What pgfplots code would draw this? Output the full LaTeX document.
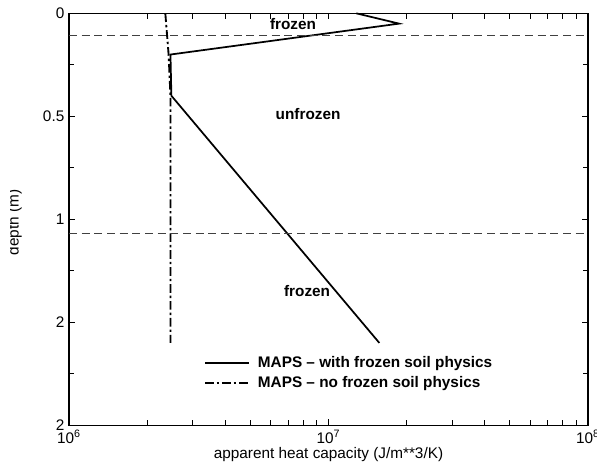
\documentclass[border=0pt]{standalone}
\usepackage{fontspec}
\setmainfont{Liberation Sans}
\usepackage{pgfplots}
\pgfplotsset{compat=1.18}
\begin{document}
\begin{tikzpicture}
\useasboundingbox (-51.75pt,-36.75pt) rectangle (396pt,319pt);
\clip (-51.75pt,-36.75pt) rectangle (396pt,319pt);
\begin{axis}[
  scale only axis,
  width=389.25pt, height=309pt,
  xmode=log, xmin=1e6, xmax=1e8,
  ymin=0, ymax=2, y dir=reverse,
  xtick={1e6,1e7,1e8},
  xticklabels={10\textsuperscript{6},10\textsuperscript{7},10\textsuperscript{8}},
  ytick={0,0.5,1,1.5,2},
  yticklabels={0,0.5,1,2,2},
  minor ytick={0.25,0.75,1.25,1.75},
  tick align=inside,
  major tick length=4.5pt, minor tick length=4pt,
  every tick/.style={black, line width=0.8pt},
  axis line style={line width=1.2pt},
  ticklabel style={font=\fontsize{11.5}{13}\selectfont},
  xlabel={apparent heat capacity (J/m**3/K)},
  xlabel style={font=\fontsize{11.5}{13}\selectfont, yshift=4pt},
  /pgf/number format/assume math mode=true,
  legend style={draw=none, fill=none, at={(0.252,0.18)}, anchor=north west,
     font=\fontsize{11.5}{13}\selectfont\bfseries, row sep=0.6pt, column sep=4pt},
  legend cell align=left,
  legend image code/.code={\draw[#1] (0pt,0pt) -- (33pt,0pt);},
  clip=false,
]
\addplot[black, line width=1.3pt] coordinates {
 (1.28e7,0) (1.87e7,0.05) (2.46e6,0.2) (2.48e6,0.4) (1.57e7,1.6)};
\addlegendentry{MAPS -- with frozen soil physics}
\addplot[black, line width=1.4pt, dash pattern=on 6.5pt off 2.2pt on 1.8pt off 2.2pt] coordinates {
 (2.35e6,0) (2.42e6,0.2) (2.46e6,0.4) (2.46e6,1.6)};
\addlegendentry{MAPS -- no frozen soil physics}
\addplot[black!75, line width=0.6pt, dash pattern=on 6pt off 3.5pt, forget plot] coordinates {(1e6,0.105) (1e8,0.105)};
\addplot[black!75, line width=0.6pt, dash pattern=on 6pt off 3.5pt, forget plot] coordinates {(1e6,1.07) (1e8,1.07)};
\node[font=\fontsize{11.5}{13}\selectfont\bfseries] at (axis cs:7.3e6,0.052) {frozen};
\node[font=\fontsize{11.5}{13}\selectfont\bfseries] at (axis cs:8.34e6,0.49) {unfrozen};
\node[font=\fontsize{11.5}{13}\selectfont\bfseries] at (axis cs:8.27e6,1.35) {frozen};
\end{axis}
\begin{scope}
\clip (-43.5pt,0pt) rectangle (0pt,309pt);
\node[rotate=90, anchor=base, font=\fontsize{11.5}{13}\selectfont] at (-37.8pt,152pt) {depth (m)};
\end{scope}
\end{tikzpicture}
\end{document}
